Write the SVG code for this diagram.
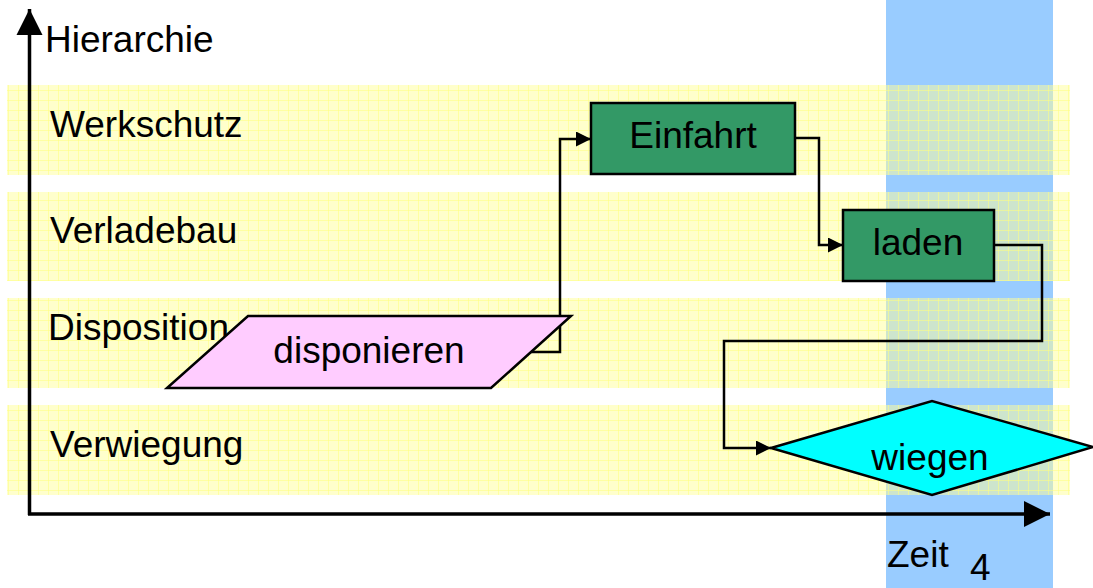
<svg xmlns="http://www.w3.org/2000/svg" width="1093" height="588" viewBox="0 0 1093 588">
<defs>
<style>
text{font-family:"Liberation Sans",Arial,sans-serif;font-size:37px;fill:#000}
.band{fill:#ffffcc}
.ov{fill:#cde5cd}
.grid{fill:url(#grid)}
.node{stroke:#000;stroke-width:2.5}
.conn{fill:none;stroke:#000;stroke-width:2.5}
.axis{fill:none;stroke:#000;stroke-width:3.5}
.mid{text-anchor:middle}
</style>
<pattern id="grid" width="10" height="10" patternUnits="userSpaceOnUse" x="8" y="0">
<path d="M0.5 0V10M0 0.5H10" stroke="#ffff80" stroke-width="1" fill="none" opacity="0.55"/>
</pattern>
<marker id="ah" markerWidth="6" markerHeight="6" refX="6" refY="3" orient="auto" markerUnits="strokeWidth">
<path d="M0 0L6 3L0 6Z" fill="#000"/>
</marker>
<marker id="axh" markerWidth="7.5" markerHeight="7.5" refX="7.5" refY="3.75" orient="auto" markerUnits="strokeWidth">
<path d="M0 0L7.5 3.75L0 7.5Z" fill="#000"/>
</marker>
</defs>
<rect x="886" y="0" width="167" height="588" fill="#99ccff"/>
<g id="bands">
<rect class="band" x="7" y="85" width="1063" height="90"/>
<rect class="ov" x="886" y="85" width="167" height="90"/>
<rect class="grid" x="7" y="85" width="1063" height="90"/>
<rect class="band" x="7" y="192" width="1063" height="89"/>
<rect class="ov" x="886" y="192" width="167" height="89"/>
<rect class="grid" x="7" y="192" width="1063" height="89"/>
<rect class="band" x="7" y="298" width="1063" height="90"/>
<rect class="ov" x="886" y="298" width="167" height="90"/>
<rect class="grid" x="7" y="298" width="1063" height="90"/>
<rect class="band" x="7" y="405" width="1063" height="90"/>
<rect class="ov" x="886" y="405" width="167" height="90"/>
<rect class="grid" x="7" y="405" width="1063" height="90"/>
</g>
<g id="labels">
<text x="45" y="52">Hierarchie</text>
<text x="50" y="137">Werkschutz</text>
<text x="50" y="243">Verladebau</text>
<text x="48" y="340">Disposition</text>
<text x="50" y="457">Verwiegung</text>
<text x="887" y="567">Zeit</text>
<text x="970" y="580">4</text>
</g>
<g id="axes">
<path class="axis" d="M29.5 515V9" marker-end="url(#axh)"/>
<path class="axis" d="M28 514H1050" marker-end="url(#axh)"/>
</g>
<g id="connectors">
<path class="conn" d="M530 352H560V139H591" marker-end="url(#ah)"/>
<path class="conn" d="M795 138H819V245H843" marker-end="url(#ah)"/>
<path class="conn" d="M994 245H1042V341H724V448H771" marker-end="url(#ah)"/>
</g>
<g id="disponieren">
<polygon class="node" points="248,316 571,316 491,388 167,388" fill="#ffccff"/>
<text class="mid" x="369" y="363">disponieren</text>
</g>
<g id="einfahrt">
<rect class="node" x="591" y="103" width="204" height="71" fill="#339966"/>
<text class="mid" x="693" y="148">Einfahrt</text>
</g>
<g id="laden">
<rect class="node" x="843" y="210" width="151" height="71" fill="#339966"/>
<text class="mid" x="918" y="255">laden</text>
</g>
<g id="wiegen">
<polygon class="node" points="771,448 932,401 1093,447 932,495" fill="#00ffff"/>
<text class="mid" x="930" y="470">wiegen</text>
</g>
</svg>
